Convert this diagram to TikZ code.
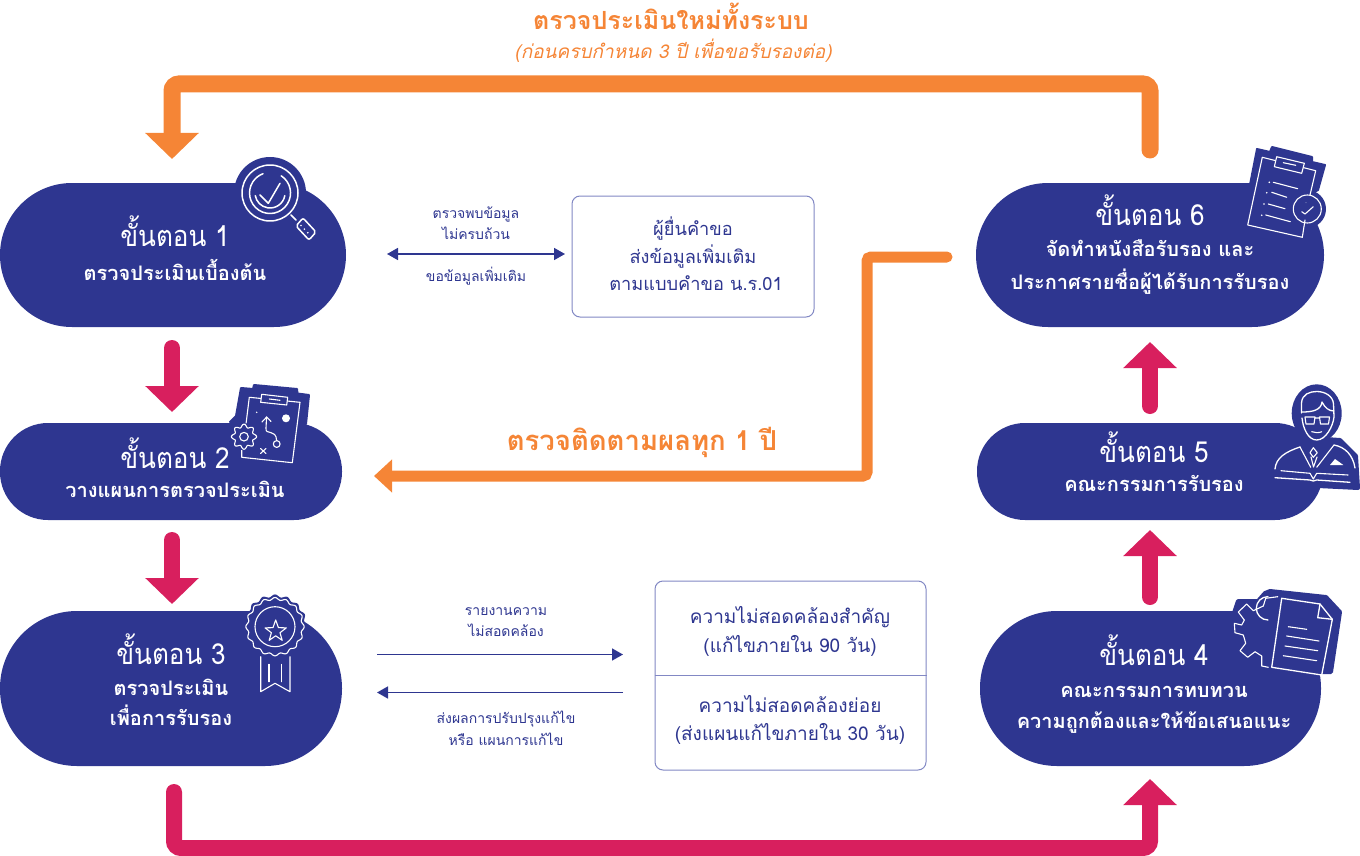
\documentclass[tikz,border=0pt]{standalone}
\usepackage{fontspec}
\usetikzlibrary{arrows.meta}
\newfontfamily\thaifont[Script=Thai]{Loma}
\newfontfamily\thaicond[Script=Thai,FakeStretch=0.9]{Loma}
\definecolor{navy}{HTML}{2E3690}
\definecolor{flowor}{HTML}{F58536}
\definecolor{flowmg}{HTML}{D81F5E}
\definecolor{boxline}{HTML}{8288C4}
\tikzset{
  pill/.style={fill=navy,draw=none,inner sep=0pt,rounded corners=#1},
  steptitle/.style={anchor=base,text=white,font=\thaicond\fontsize{29}{29}\selectfont,inner sep=0pt},
  stepsub/.style={anchor=base,text=white,font=\thaifont\bfseries\fontsize{20}{20}\selectfont,inner sep=0pt},
  notebox/.style={draw=boxline,line width=1pt,rounded corners=8pt,fill=white,inner sep=0pt},
  boxtext/.style={anchor=base,text=navy,font=\thaifont\fontsize{19}{19}\selectfont,inner sep=0pt},
  smalltext/.style={anchor=base,text=navy,font=\thaifont\fontsize{14}{14}\selectfont,inner sep=0pt},
  flowhead/.style={-{Triangle[length=#1,width=52pt]}},
  thinflow/.style={navy,line width=1.6pt},
  backing/.style={fill=navy,draw=navy,line join=round,line width=#1},
  iconline/.style={draw=white,line width=1.1pt,line join=round,line cap=round},
}
\begin{document}
\begin{tikzpicture}[x=1pt,y=-1pt]
\useasboundingbox (0,0) rectangle (1360,856);

% step pills
\node[pill=72pt,minimum width=346pt,minimum height=144pt] (s1) at (173,255) {};
\node[pill=48pt,minimum width=342pt,minimum height=97pt] (s2) at (171,471.5) {};
\node[pill=77pt,minimum width=342pt,minimum height=155pt] (s3) at (171,688.5) {};
\node[pill=72pt,minimum width=348pt,minimum height=144pt] (s6) at (1150,255) {};
\node[pill=48pt,minimum width=346pt,minimum height=97pt] (s5) at (1150,471.5) {};
\node[pill=77pt,minimum width=341pt,minimum height=155pt] (s4) at (1150.5,688.5) {};

% anchors for the flow connectors
\coordinate (topstart) at (1150,150);
\coordinate (topend) at (172,159);
\coordinate (midstart) at (947,257);
\coordinate (midend) at (374,476);
\coordinate (a12from) at (172,348);
\coordinate (a12to) at (172,412);
\coordinate (a23from) at (172,540);
\coordinate (a23to) at (172,604);
\coordinate (a34from) at (174,792);
\coordinate (a34to) at (1150,779);
\coordinate (a45from) at (1150,597);
\coordinate (a45to) at (1150,530);
\coordinate (a56from) at (1150,406);
\coordinate (a56to) at (1150,342);

% long feedback loops
\draw[flowor,line width=17pt,line cap=round,rounded corners=7pt,flowhead=26pt]
  (topstart) -- (1150,84) -- (172,84) -- (topend);
\draw[flowor,line width=11pt,line cap=round,rounded corners=4pt,-{Triangle[length=18pt,width=32pt]}]
  (midstart) -- (867,257) -- (867,476) -- (midend);
\draw[flowmg,line width=16pt,line cap=round,rounded corners=7pt,flowhead=26pt]
  (a34from) -- (174,848) -- (1150,848) -- (a34to);

% step-to-step arrows
\foreach \p/\q in {a12from/a12to,a23from/a23to,a45from/a45to,a56from/a56to}
  \draw[flowmg,line width=16pt,line cap=round,flowhead=26pt] (\p) -- (\q);

% titles of the loops
\node[anchor=base,text=flowor,font=\thaifont\bfseries\fontsize{25}{25}\selectfont,inner sep=0pt] (looptitle) at (671,30) {ตรวจประเมินใหม่ทั้งระบบ};
\node[anchor=base,text=flowor,font=\thaifont\itshape\fontsize{19}{19}\selectfont,inner sep=0pt] (loopsub) at (673,59) {(ก่อนครบกำหนด 3 ปี เพื่อขอรับรองต่อ)};
\node[anchor=base,text=flowor,font=\thaifont\bfseries\fontsize{27.5}{27.5}\selectfont,inner sep=0pt] (yearly) at (642,450) {ตรวจติดตามผลทุก 1 ปี};

% step captions
\node[steptitle] (t1) at (175,246) {ขั้นตอน 1};
\node[stepsub] (u1) at (175,280) {ตรวจประเมินเบื้องต้น};
\node[steptitle] (t2) at (175,468) {ขั้นตอน 2};
\node[stepsub] (u2) at (175,497) {วางแผนการตรวจประเมิน};
\node[steptitle] (t3) at (171,664) {ขั้นตอน 3};
\node[stepsub] (u3a) at (171,695) {ตรวจประเมิน};
\node[stepsub] (u3b) at (171,725) {เพื่อการรับรอง};
\node[steptitle] (t4) at (1154,665) {ขั้นตอน 4};
\node[stepsub] (u4a) at (1154,697) {คณะกรรมการทบทวน};
\node[stepsub] (u4b) at (1154,728) {ความถูกต้องและให้ข้อเสนอแนะ};
\node[steptitle] (t5) at (1154,462) {ขั้นตอน 5};
\node[stepsub] (u5) at (1154,491) {คณะกรรมการรับรอง};
\node[steptitle] (t6) at (1150,225) {ขั้นตอน 6};
\node[stepsub] (u6a) at (1150,256) {จัดทำหนังสือรับรอง และ};
\node[stepsub] (u6b) at (1150,289) {ประกาศรายชื่อผู้ได้รับการรับรอง};

% applicant box
\node[notebox,minimum width=242pt,minimum height=121pt] (applicant) at (693,256.5) {};
\node[boxtext,font=\thaifont\fontsize{18.2}{18.2}\selectfont] (ap1) at (693,235) {ผู้ยื่นคำขอ};
\node[boxtext,font=\thaifont\fontsize{18.2}{18.2}\selectfont] (ap2) at (693,263) {ส่งข้อมูลเพิ่มเติม};
\node[boxtext,font=\thaifont\fontsize{18.2}{18.2}\selectfont] (ap3) at (696,290) {ตามแบบคำขอ น.ร.01};

% non-conformity box
\node[notebox,minimum width=271pt,minimum height=189pt] (nc) at (790.5,675.5) {};
\draw[boxline,line width=1pt] (nc.west) -- (nc.east);
\node[boxtext] (nc1) at (790,623) {ความไม่สอดคล้องสำคัญ};
\node[boxtext] (nc2) at (790,652) {(แก้ไขภายใน 90 วัน)};
\node[boxtext] (nc3) at (790,712) {ความไม่สอดคล้องย่อย};
\node[boxtext] (nc4) at (790,740) {(ส่งแผนแก้ไขภายใน 30 วัน)};

% thin exchange arrows and their labels
\coordinate (exa) at (387,254);
\coordinate (exb) at (565,254);
\coordinate (rpa) at (377,654.5);
\coordinate (rpb) at (623,654.5);
\coordinate (rta) at (623,692.5);
\coordinate (rtb) at (377,692.5);
\draw[thinflow,{Triangle[length=11pt,width=12pt]}-{Triangle[length=11pt,width=12pt]}] (exa) -- (exb);
\draw[thinflow,-{Triangle[length=11pt,width=12pt]}] (rpa) -- (rpb);
\draw[thinflow,-{Triangle[length=11pt,width=12pt]}] (rta) -- (rtb);
\node[smalltext] (l1) at (476,218) {ตรวจพบข้อมูล};
\node[smalltext] (l2) at (476,239) {ไม่ครบถ้วน};
\node[smalltext] (l3) at (476,281) {ขอข้อมูลเพิ่มเติม};
\node[smalltext] (l4) at (506,615) {รายงานความ};
\node[smalltext] (l5) at (506,636) {ไม่สอดคล้อง};
\node[smalltext] (l6) at (506,723) {ส่งผลการปรับปรุงแก้ไข};
\node[smalltext] (l7) at (506,745) {หรือ แผนการแก้ไข};

% magnifier icon
\fill[navy] (270,193) circle (36);
\draw[navy,line width=20pt,line cap=round] (292,216) -- (308,234);
\draw[iconline,line width=1.5pt] (270,193) circle (28);
\draw[iconline,line width=1.5pt] (281.2,175.8) arc (-57:250:20.5);
\draw[iconline,line width=1.5pt] (284.8,195.6) arc (10:170:15);
\draw[iconline,line width=1.5pt] (260,195) -- (268.3,203.3) -- (280,183.3);
\draw[iconline,line width=1.5pt] (291,215) -- (296,220);
\draw[iconline,line width=1.5pt,rounded corners=2pt] (296,226) -- (303,218) -- (316,232) -- (309,240) -- cycle;
\foreach \d in {0,1,2}
  \fill[white] (301+\d*3.4,225.5+\d*3.6) circle (0.9);

% planning clipboard icon
\fill[backing=2pt] (241,388) -- (253,389) -- (254,385) -- (297,389) -- (297.5,393.5) -- (309,395) -- (306,424) -- (236,424) -- (230,422) -- (236,416) -- cycle;
\draw[iconline] (246,424) -- (249.3,397.3) -- (300,402.3) -- (292.3,462.7) -- (241.7,457.3) -- (241.7,449);
\draw[iconline,fill=navy] (261.7,394.3) -- (287.7,397.3) -- (286.7,405) -- (260.7,402.3) -- cycle;
\draw[iconline] (269.3,399) -- (280,400.3);
\fill[navy] (244,436.7) circle (13.5);
\draw[iconline] plot[domain=0:360,samples=97,smooth] ({244+(11+1.6*cos(8*\x))*cos(\x)},{436.7+(11+1.6*cos(8*\x))*sin(\x)}) -- cycle;
\draw[iconline] (244,436.7) circle (4.3);
\draw[iconline] (276.7,440.7) .. controls (276,428) and (265,436) .. (266,428) .. controls (266.5,424) and (266,422) .. (266.7,417);
\draw[iconline] (262,422) -- (266.7,417) -- (271,421.5);
\draw[iconline] (276.7,444) circle (3.4);
\draw[iconline] (260.5,448.5) -- (266,453.5) (266,448.5) -- (260.5,453.5);
\fill[white] (286,418.3) circle (4);
\fill[white] (256.7,412.3) circle (0.8);

% rosette icon
\fill[navy] plot[domain=0:360,samples=145,smooth] ({275+(31+1.3*cos(16*\x))*cos(\x)},{626.7+(31+1.3*cos(16*\x))*sin(\x)}) -- cycle;
\draw[iconline] plot[domain=0:360,samples=145,smooth] ({275+(28+1.2*cos(16*\x))*cos(\x)},{626.7+(28+1.2*cos(16*\x))*sin(\x)}) -- cycle;
\draw[iconline] (275,626.7) circle (20);
\draw[iconline] plot coordinates {(275.7,620) (278.4,627.6) (286.3,627.9) (280,632.7) (282.2,640.3) (275.7,635.8) (269.2,640.3) (271.4,632.7) (265.1,627.9) (273,627.6)} -- cycle;
\draw[iconline] (260.7,656.7) -- (260.7,691.7) -- (275,683.3) -- (290,691.7) -- (290,656.7);
\draw[iconline] (269,664.3) -- (269,681.7) (281.7,664.3) -- (281.7,681.7);

% certificate clipboard icon
\fill[backing=2pt] (1257,149) -- (1270,152) -- (1272,147) -- (1312,157) -- (1312,162) -- (1325,165) -- (1318,190) -- (1300,200) -- (1247,200) -- cycle;
\fill[navy] (1307,209) circle (19);
\draw[iconline] (1262.3,157.3) -- (1315.7,170.7) -- (1310,195);
\draw[iconline] (1305,220) -- (1302.3,237.3) -- (1247.7,225) -- (1262.3,157.3);
\draw[iconline,fill=navy] (1276.7,156.7) -- (1304.3,163.3) -- (1301.7,173.3) -- (1274.3,166.7) -- cycle;
\draw[iconline] (1283.3,162.7) -- (1295.7,165.3);
\draw[iconline] (1273.3,182.3) -- (1297.7,188.7) (1271.7,192.3) -- (1286.7,197.3) (1268.3,204) -- (1285,208.7) (1265.7,215) -- (1290.3,221.7);
\foreach \q in {(1269.3,182.3),(1266.7,192.7),(1264,204),(1261.7,215.3)}
  \fill[white] \q circle (0.9);
\draw[iconline] (1307.3,209) circle (14);
\draw[iconline] (1301.7,211.7) -- (1305,214) -- (1313.3,206.7);
\fill[white] (1306,202.7) circle (0.4);

% chairperson icon
\fill[navy] (1316.7,413.3) ellipse (25 and 29);
\fill[backing=4pt] (1272,481) -- (1272,460) -- (1280,445) -- (1297,437) -- (1340,440) -- (1356,456) -- (1358,488) -- (1278,484) -- cycle;
\draw[iconline,line width=1.3pt] (1301.5,413) -- (1301.5,403) .. controls (1302,394) and (1310,391.5) .. (1316.7,391.5) .. controls (1325,391.5) and (1333,396) .. (1333.5,404) -- (1334,417) .. controls (1333,426) and (1326,440) .. (1316.7,440) .. controls (1308,440) and (1303,428) .. (1302,418);
\draw[iconline,line width=1.3pt] (1302,412) .. controls (1313,412) and (1321,410) .. (1322,402) .. controls (1325,408) and (1329,411) .. (1334,411);
\draw[iconline] (1305,417) -- (1315,417) -- (1314,424) -- (1306,424) -- cycle (1319.5,417) -- (1329.5,417) -- (1328.5,424) -- (1320.5,424) -- cycle (1315,418) -- (1319.5,418);
\draw[iconline] (1311.7,431.7) .. controls (1315,433) and (1319,433) .. (1321.7,431.7);
\draw[iconline,line width=1.3pt] (1275,469) .. controls (1276,458) and (1285,452) .. (1300,447);
\draw[iconline,line width=1.3pt] (1334,445) .. controls (1345,447) and (1353,455) .. (1355,468);
\draw[iconline] (1300,447) -- (1310.7,467.3) (1334,445) -- (1316.7,467.3);
\draw[iconline] (1313.3,447.7) -- (1317.3,452.7) -- (1313.3,457.3) -- (1310,452.7) -- cycle;
\draw[iconline] (1311,457) -- (1313.5,467) -- (1317,457);
\fill[white] (1330,465) -- (1335,459) -- (1343.3,465) -- cycle;
\draw[iconline] (1281,470.7) -- (1310,473.3) -- (1313.3,479) -- (1316.7,473.3) -- (1348,475);
\draw[iconline,line width=1.3pt] (1275,477.7) -- (1310,480) -- (1313.3,481) -- (1316.7,480) -- (1350,482.3);

% review document icon
\fill[backing=4pt] (1238,601) -- (1258,601) -- (1265,593) -- (1270,591) -- (1326,597) -- (1340,612) -- (1331,672) -- (1268,672) -- (1240,660) -- (1230,625) -- cycle;
\draw[iconline] (1277.7,596.7) -- (1265.7,598.3) -- (1263.3,606) -- (1253.3,610.7) -- (1246.7,604) -- (1238.3,612) -- (1244.3,620) -- (1241.7,625) -- (1234.3,623.3) -- (1235,632.7) -- (1243.3,635) -- (1245.7,643.3) -- (1240,650.7) -- (1247.7,657.3) -- (1255,651.7) -- (1261.7,656) -- (1261.7,666) -- (1268.3,667.3);
\draw[iconline,line width=1.3pt] (1268,620) arc (90:270:11.7);
\draw[iconline,line width=1.3pt] (1281.7,598.3) -- (1320,604) -- (1332.3,619.3) -- (1321.7,675) -- (1271.7,667.3) -- cycle;
\draw[iconline,line width=1.3pt] (1320,604) -- (1317.7,617.7) -- (1332.3,619.3);
\draw[iconline] (1288.3,626.7) -- (1306.7,629.3) (1286.7,636) -- (1319,641) (1285,646) -- (1317.7,650.7) (1283.3,655.7) -- (1316.7,660.7);
\end{tikzpicture}
\end{document}
